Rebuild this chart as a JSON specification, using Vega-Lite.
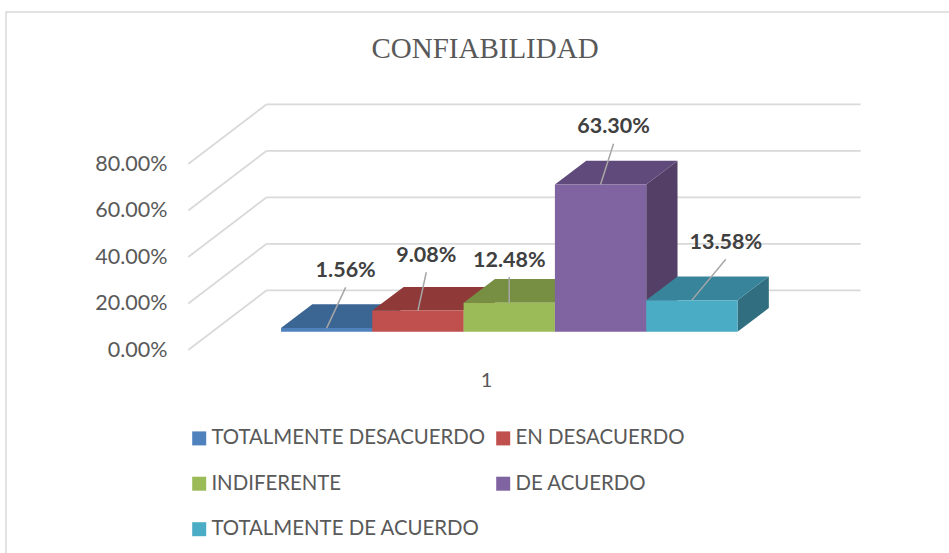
{
"$schema":"https://vega.github.io/schema/vega-lite/v6.json",
"width":950,"height":550,
"autosize":{"type":"none"},
"padding":{"left":6,"top":12,"right":0,"bottom":0},
"background":"white",
"view":{"stroke":"#d9d9d9","strokeWidth":1.5,"fill":"white"},
"title":{"text":"CONFIABILIDAD","font":"Liberation Serif","fontSize":29,"fontWeight":"normal","color":"#595959","anchor":"middle","offset":-52,"dx":4},
"datasets":{
"barras":[
{"serie":"TOTALMENTE DESACUERDO","valor":0.0156,"pos":0},
{"serie":"EN DESACUERDO","valor":0.0908,"pos":1},
{"serie":"INDIFERENTE","valor":0.1248,"pos":2},
{"serie":"DE ACUERDO","valor":0.633,"pos":3},
{"serie":"TOTALMENTE DE ACUERDO","valor":0.1358,"pos":4}
],
"marcas":[{"t":0},{"t":0.2},{"t":0.4},{"t":0.6},{"t":0.8}]
},
"resolve":{"scale":{"color":"independent"}},
"layer":[
{"data":{"name":"marcas"},
"transform":[{"calculate":"datum.t+0.2568","as":"tb"},{"calculate":"-2.2607","as":"xa"},{"calculate":"-1.402","as":"xb"}],
"mark":{"type":"rule","color":"#d9d9d9","strokeWidth":1.8},
"encoding":{
"x":{"field":"xa","type":"quantitative","scale":{"domain":[-4.257,6.148],"nice":false,"zero":false},
"axis":{"title":null,"grid":false,"ticks":false,"domain":false,"values":[1],"format":"d","offset":-192,"labelFont":"Lato","labelFontSize":20,"labelColor":"#595959","labelPadding":0}},
"x2":{"field":"xb"},
"y":{"field":"t","type":"quantitative","scale":{"domain":[-0.9118,1.4538],"nice":false,"zero":false},
"axis":{"title":null,"grid":false,"ticks":false,"domain":false,"values":[0,0.2,0.4,0.6,0.8],"format":".2%","offset":-161,"labelFont":"Lato","labelFontSize":21.5,"labelColor":"#595959","labelPadding":0}},
"y2":{"field":"tb"}}},
{"data":{"name":"marcas"},
"transform":[{"calculate":"datum.t+0.2568","as":"tb"},{"calculate":"-1.402","as":"xb"},{"calculate":"5.104","as":"xc"}],
"mark":{"type":"rule","color":"#d9d9d9","strokeWidth":1.8},
"encoding":{"x":{"field":"xb","type":"quantitative"},"x2":{"field":"xc"},"y":{"field":"tb","type":"quantitative"}}},
{"data":{"name":"barras"},
"transform":[{"calculate":"[0,1]","as":"d"},{"flatten":["d"]},
{"calculate":"datum.pos-1.245+1+0.343*datum.d","as":"xs"},
{"calculate":"0.0787+0.102*datum.d","as":"y0"},
{"calculate":"datum.y0+datum.valor","as":"y1"}],
"mark":{"type":"area","orient":"vertical"},
"encoding":{"x":{"field":"xs","type":"quantitative"},"y":{"field":"y1","type":"quantitative","stack":null},"y2":{"field":"y0"},
"color":{"field":"serie","type":"nominal","legend":null,"sort":null,
"scale":{"domain":["TOTALMENTE DESACUERDO","EN DESACUERDO","INDIFERENTE","DE ACUERDO","TOTALMENTE DE ACUERDO"],"range":["#2f5078","#723030","#5f7335","#544066","#316f80"]}}}},
{"data":{"name":"barras"},
"transform":[{"calculate":"[0,1]","as":"d"},{"flatten":["d"]},
{"calculate":"datum.pos-1.245+0.343*datum.d","as":"xt"},
{"calculate":"datum.xt+1","as":"xt2"},
{"calculate":"0.0787+datum.valor+0.102*datum.d","as":"yt"}],
"mark":{"type":"area","orient":"horizontal"},
"encoding":{"x":{"field":"xt","type":"quantitative","stack":null},"x2":{"field":"xt2"},"y":{"field":"yt","type":"quantitative"},
"color":{"field":"serie","type":"nominal","legend":null,"sort":null,
"scale":{"domain":["TOTALMENTE DESACUERDO","EN DESACUERDO","INDIFERENTE","DE ACUERDO","TOTALMENTE DE ACUERDO"],"range":["#3b6593","#8f3a38","#778f42","#604a7b","#38849b"]}}}},
{"data":{"name":"barras"},
"transform":[{"calculate":"datum.pos-1.245","as":"xf"},{"calculate":"datum.xf+1","as":"xf2"},{"calculate":"0.0787","as":"yf"},{"calculate":"datum.yf+datum.valor","as":"yf2"}],
"mark":{"type":"rect"},
"encoding":{"x":{"field":"xf","type":"quantitative"},"x2":{"field":"xf2"},"y":{"field":"yf","type":"quantitative"},"y2":{"field":"yf2"},
"color":{"field":"serie","type":"nominal","sort":null,
"scale":{"domain":["TOTALMENTE DESACUERDO","EN DESACUERDO","INDIFERENTE","DE ACUERDO","TOTALMENTE DE ACUERDO"],"range":["#4f81bd","#c0504d","#9bbb59","#8064a2","#4bacc6"]},
"legend":{"title":null,"orient":"none","direction":"horizontal","legendX":183,"legendY":416,"columns":2,"symbolType":"square","symbolSize":196,"symbolStrokeWidth":0,"labelFont":"Lato","labelFontSize":20.4,"labelColor":"#595959","labelOffset":2,"labelLimit":400,"rowPadding":24.5,"columnPadding":7,"padding":0}}}},
{"data":{"name":"barras"},
"transform":[
{"calculate":"datum.pos-1.245+0.5","as":"xa"},
{"calculate":"0.0787+datum.valor","as":"ya"},
{"calculate":"datum.xa+[0.208,0.091,0,0.142,0.372][datum.pos]","as":"xl"},
{"calculate":"datum.ya+[0.175,0.165,0.11,0.175,0.176][datum.pos]","as":"yl"}],
"mark":{"type":"rule","color":"#a6a6a6","strokeWidth":1.5},
"encoding":{"x":{"field":"xa","type":"quantitative"},"x2":{"field":"xl"},"y":{"field":"ya","type":"quantitative"},"y2":{"field":"yl"}}},
{"data":{"name":"barras"},
"transform":[
{"calculate":"datum.pos-1.245+0.5+[0.208,0.091,0,0.142,0.372][datum.pos]","as":"xl"},
{"calculate":"0.0787+datum.valor+[0.175,0.165,0.11,0.175,0.176][datum.pos]","as":"yl"}],
"mark":{"type":"text","font":"Lato","fontWeight":"bold","fontSize":21.5,"color":"#404040","baseline":"middle","align":"center","dy":-16.5},
"encoding":{"x":{"field":"xl","type":"quantitative"},"y":{"field":"yl","type":"quantitative"},"text":{"field":"valor","type":"quantitative","format":".2%"}}}
]
}
